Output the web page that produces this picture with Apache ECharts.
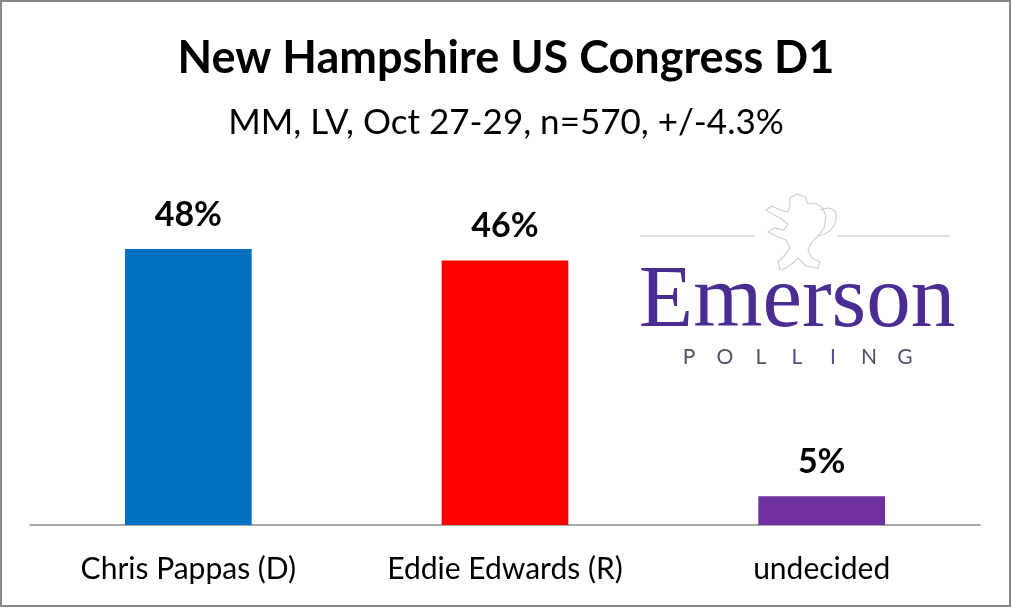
<!DOCTYPE html>
<html><head><meta charset="utf-8">
<script src="https://cdn.jsdelivr.net/npm/echarts@6/dist/echarts.min.js"></script>
<style>html,body{margin:0;padding:0;background:#fff}#c{width:1012px;height:608px}</style>
</head><body><div id="c"></div>
<script>
const categories = ['Chris Pappas (D)', 'Eddie Edwards (R)', 'undecided'];
const values = [48, 46, 5];
const barColors = ['#0070C0', '#FF0000', '#7030A0'];
const titleText = 'New Hampshire US Congress D1';
const subtitleText = 'MM, LV, Oct 27-29, n=570, +/-4.3%';
const pollingLetters = ['P', 'O', 'L', 'L', 'I', 'N', 'G'];

const chart = echarts.init(document.getElementById('c'));
const font = 'Lato, "Open Sans", sans-serif';
const lionPts = [[790,198],[797,194],[805,197],[808,204],[814,203],[822,207],[826,216],[824,228],[818,236],[812,242],[808,250],[812,258],[820,262],[818,268],[806,266],[798,258],[794,262],[786,268],[780,270],[778,262],[784,256],[790,248],[786,240],[776,236],[768,232],[774,228],[784,230],[788,224],[780,218],[772,214],[766,210],[772,206],[780,210],[788,212],[790,204]];
const pollingGraphics = pollingLetters.map((ch, i) => ({
  type: 'text',
  style: {text: ch, x: 689 + i * 36, y: 357, textAlign: 'center', textVerticalAlign: 'middle', font: '21px Lato, "Open Sans", sans-serif', fill: (i === 3 || i === 4) ? '#5a4a8a' : '#55506a'}
}));
chart.setOption({
  animation: false,
  title: [
    {text: titleText, left: 'center', top: 31, textStyle: {fontFamily: font, fontWeight: 'bold', fontSize: 45, color: '#000'}},
    {text: subtitleText, left: 'center', top: 100, textStyle: {fontFamily: font, fontWeight: 'normal', fontSize: 35, color: '#000'}}
  ],
  grid: {left: 30, right: 32, top: 180, bottom: 83},
  xAxis: {
    type: 'category', data: categories,
    axisLine: {lineStyle: {color: '#8c8c8c', width: 1.5}},
    axisTick: {show: false},
    axisLabel: {fontFamily: font, fontSize: 30, color: '#000', margin: 29}
  },
  yAxis: {type: 'value', min: 0, max: 60, show: false, splitLine: {show: false}},
  series: [{
    type: 'bar', barWidth: '40%',
    data: values.map((v, i) => ({value: v, itemStyle: {color: barColors[i]}})),
    label: {show: true, position: 'top', distance: 17, formatter: '{c}%', fontFamily: font, fontWeight: 'bold', fontSize: 34, color: '#000'}
  }],
  graphic: [
    {type: 'rect', shape: {x: 1, y: 1, width: 1009, height: 605}, style: {fill: 'none', stroke: '#888', lineWidth: 2}, z: 100},
    {type: 'line', shape: {x1: 640, y1: 236, x2: 755, y2: 236}, style: {stroke: '#d4d4dc', lineWidth: 1.5}},
    {type: 'line', shape: {x1: 837, y1: 236, x2: 950, y2: 236}, style: {stroke: '#d4d4dc', lineWidth: 1.5}},
    {type: 'polygon', shape: {points: lionPts}, style: {fill: 'none', stroke: '#d0d0da', lineWidth: 1.2}},
    {type: 'bezierCurve', shape: {x1: 820, y1: 210, cpx1: 842, cpy1: 200, cpx2: 842, cpy2: 232, x2: 818, y2: 236}, style: {fill: 'none', stroke: '#d0d0da', lineWidth: 1.2}},
    {type: 'text', style: {text: 'Emerson', x: 797, y: 303, textAlign: 'center', textVerticalAlign: 'middle', font: '89px "Liberation Serif", "DejaVu Serif", serif', fill: '#4b2c93'}}
  ].concat(pollingGraphics)
});
</script></body></html>
